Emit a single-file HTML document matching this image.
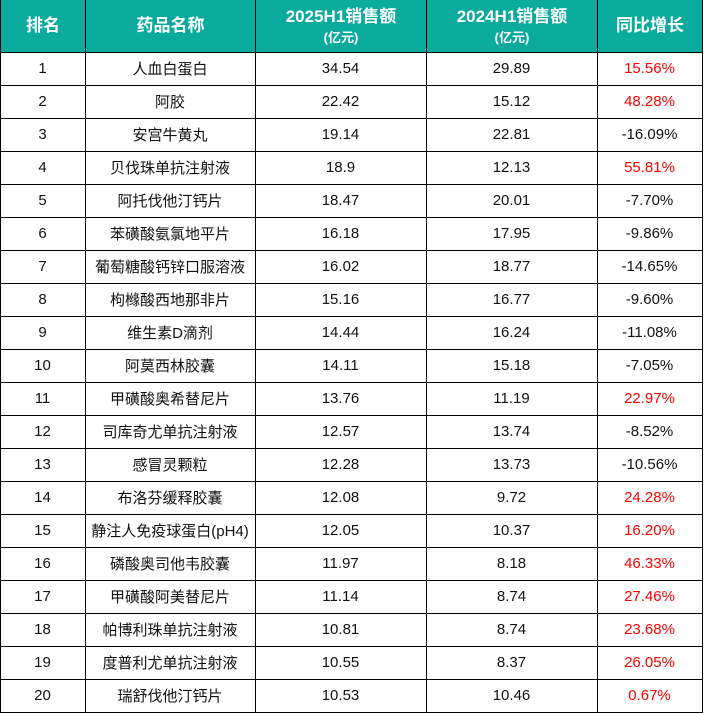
<!DOCTYPE html>
<html><head><meta charset="utf-8"><style>
body{margin:0;width:704px;height:714px;background:#fff;font-family:"Liberation Sans","Noto Sans CJK SC",sans-serif;position:relative;overflow:hidden}
.c{position:absolute;display:flex;align-items:center;justify-content:center;box-sizing:border-box;color:#111;font-size:15px}
.h{background:#0aab9c;color:#fff;font-weight:bold;font-size:17px;flex-direction:column;line-height:1.35}
.h small{font-size:13px;font-weight:bold}
.r{color:#f00}
.vl{position:absolute;top:0;width:1px;height:713px;background:#000}
.hl{position:absolute;left:0;width:703px;height:1px;background:#000}
</style></head><body>
<div id="t"></div>
<script>
var d=[["人血白蛋白","34.54","29.89","15.56%"],["阿胶","22.42","15.12","48.28%"],["安宫牛黄丸","19.14","22.81","-16.09%"],["贝伐珠单抗注射液","18.9","12.13","55.81%"],["阿托伐他汀钙片","18.47","20.01","-7.70%"],["苯磺酸氨氯地平片","16.18","17.95","-9.86%"],["葡萄糖酸钙锌口服溶液","16.02","18.77","-14.65%"],["枸橼酸西地那非片","15.16","16.77","-9.60%"],["维生素D滴剂","14.44","16.24","-11.08%"],["阿莫西林胶囊","14.11","15.18","-7.05%"],["甲磺酸奥希替尼片","13.76","11.19","22.97%"],["司库奇尤单抗注射液","12.57","13.74","-8.52%"],["感冒灵颗粒","12.28","13.73","-10.56%"],["布洛芬缓释胶囊","12.08","9.72","24.28%"],["静注人免疫球蛋白(pH4)","12.05","10.37","16.20%"],["磷酸奥司他韦胶囊","11.97","8.18","46.33%"],["甲磺酸阿美替尼片","11.14","8.74","27.46%"],["帕博利珠单抗注射液","10.81","8.74","23.68%"],["度普利尤单抗注射液","10.55","8.37","26.05%"],["瑞舒伐他汀钙片","10.53","10.46","0.67%"]];
var x=[0,85,255,426,597,702],h='';
var hd=['排名','药品名称','2025H1销售额<small>(亿元)</small>','2024H1销售额<small>(亿元)</small>','同比增长'];
for(var j=0;j<5;j++)h+='<div class="c h" style="left:'+x[j]+'px;top:0;width:'+(x[j+1]-x[j]+1)+'px;height:52px">'+hd[j].replace('<small>','<br><small>')+'</div>';
for(var i=0;i<20;i++){var y=52+i*33,row=[i+1].concat(d[i]);
for(var j=0;j<5;j++){var cl=(j==4&&row[4][0]!='-')?' r':'';
h+='<div class="c'+cl+'" style="left:'+x[j]+'px;top:'+y+'px;width:'+(x[j+1]-x[j])+'px;height:33px">'+row[j]+'</div>';}
h+='<div class="hl" style="top:'+y+'px"></div>';}
h+='<div class="hl" style="top:712px"></div>';
for(var j=0;j<6;j++)h+='<div class="vl" style="left:'+x[j]+'px"></div>';
document.getElementById('t').innerHTML=h;
</script>
</body></html>
